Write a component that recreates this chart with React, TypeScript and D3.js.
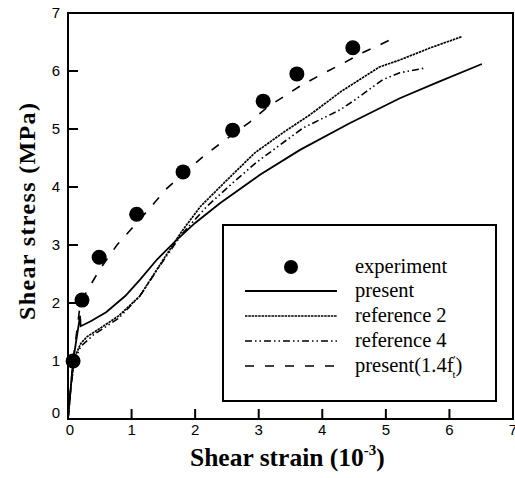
import React from "react";
import * as d3 from "d3";

const xTicks = [0, 1, 2, 3, 4, 5, 6, 7];
const yTicks = [0, 1, 2, 3, 4, 5, 6, 7];

const experiment: [number, number][] = [
  [0.08, 1.0], [0.22, 2.05], [0.49, 2.79], [1.08, 3.53], [1.81, 4.26],
  [2.59, 4.98], [3.07, 5.48], [3.6, 5.95], [4.48, 6.4],
];

const present: [number, number][] = [
  [0, 0], [0.04, 0.5], [0.08, 1.0], [0.19, 1.78], [0.2, 1.6], [0.35, 1.68],
  [0.6, 1.84], [0.9, 2.12], [1.13, 2.4], [1.4, 2.75], [1.71, 3.09], [2.0, 3.38],
  [2.39, 3.72], [3.02, 4.21], [3.65, 4.64], [4.43, 5.1], [5.22, 5.53],
  [5.8, 5.8], [6.51, 6.12],
];

const reference2: [number, number][] = [
  [0, 0], [0.05, 0.6], [0.1, 1.05], [0.2, 1.3], [0.3, 1.42], [0.5, 1.56],
  [0.8, 1.78], [1.13, 2.12], [1.5, 2.75], [1.8, 3.25], [2.08, 3.66], [2.5, 4.12],
  [2.94, 4.59], [3.4, 4.95], [3.8, 5.24], [4.3, 5.65], [4.9, 6.07], [5.22, 6.19],
  [5.7, 6.4], [6.19, 6.59],
];

const reference4: [number, number][] = [
  [0, 0], [0.05, 0.6], [0.1, 1.0], [0.2, 1.25], [0.4, 1.45], [0.8, 1.74],
  [1.13, 2.12], [1.5, 2.73], [1.8, 3.2], [2.18, 3.66], [2.6, 4.08], [2.97, 4.43],
  [3.7, 5.02], [4.28, 5.33], [4.51, 5.5], [4.95, 5.85], [5.22, 5.97], [5.61, 6.05],
];

const present14: [number, number][] = [
  [0, 0], [0.08, 1.0], [0.2, 2.05], [0.27, 2.15], [0.5, 2.58], [0.77, 3.0],
  [1.0, 3.28], [1.37, 3.74], [1.56, 3.98], [2.12, 4.52], [2.36, 4.72],
  [2.86, 5.12], [3.14, 5.38], [3.65, 5.74], [4.0, 5.95], [4.34, 6.14],
  [4.64, 6.32], [4.94, 6.47], [5.19, 6.6],
];

const legendLabels = ["experiment", "present", "reference 2", "reference 4", "present(1.4f"];

export default function App() {
  const W = 515, H = 478;
  const x = d3.scaleLinear().domain([0, 7]).range([68, 513]);
  const y = d3.scaleLinear().domain([0, 7]).range([419, 13]);
  const line = d3.line<[number, number]>().x(d => x(d[0])).y(d => y(d[1]));

  const series = [
    { data: present, dash: "none", w: 1.8 },
    { data: reference2, dash: "2.5,0.8", w: 1.7 },
    { data: reference4, dash: "7,3,1.5,3,1.5,3", w: 1.6 },
    { data: present14, dash: "9,11", w: 1.6 },
  ];

  const lx0 = 245, lx1 = 337, ltx = 355;
  const rows = [267, 291, 316, 341, 366];
  const tickFont = "'Liberation Sans', Arial, sans-serif";
  const serif = "'Liberation Serif', 'Times New Roman', serif";

  return (
    <svg width={W} height={H} style={{ position: "absolute", left: 0, top: 0, background: "#fff" }}>
      <rect x={0} y={0} width={W} height={H} fill="#fff" />
      {series.map((s, i) => (
        <path key={i} d={line(s.data) || ""} fill="none" stroke="#000"
          strokeWidth={s.w} strokeDasharray={s.dash} />
      ))}
      {experiment.map((d, i) => (
        <circle key={i} cx={x(d[0])} cy={y(d[1])} r={7.5} fill="#000" />
      ))}
      {/* frame */}
      <rect x={x(0)} y={y(7)} width={x(7) - x(0)} height={y(0) - y(7)} fill="none" stroke="#000" strokeWidth={2} />
      {xTicks.slice(1, -1).map(t => (
        <line key={t} x1={x(t)} x2={x(t)} y1={y(0)} y2={y(0) - 10} stroke="#000" strokeWidth={2} />
      ))}
      {yTicks.slice(1, -1).map(t => (
        <line key={t} x1={x(0)} x2={x(0) + 10} y1={y(t)} y2={y(t)} stroke="#000" strokeWidth={2} />
      ))}
      {xTicks.map(t => (
        <text key={t} x={x(t) + (t === 0 ? 2 : 0)} y={y(0) + 16} textAnchor="middle"
          fontFamily={tickFont} fontSize={15}>{t}</text>
      ))}
      {yTicks.map(t => (
        <text key={t} x={x(0) - 8} y={y(t) + 5 - (t === 0 ? 6 : 0)} textAnchor="end"
          fontFamily={tickFont} fontSize={15}>{t}</text>
      ))}
      {/* axis titles */}
      <text x={190} y={466} fontFamily={serif} fontSize={25.5} fontWeight="bold">
        <tspan>Shear strain (10</tspan>
        <tspan fontSize={15} dy={-11}>-3</tspan>
        <tspan dy={11}>)</tspan>
      </text>
      <text transform="translate(35,320) rotate(-90)" fontFamily={serif} fontSize={24}
        fontWeight="bold" textLength={217} lengthAdjust="spacing">Shear stress (MPa)</text>
      {/* legend */}
      <rect x={223} y={225} width={273} height={176} fill="#fff" stroke="#000" strokeWidth={2} />
      <circle cx={(lx0 + lx1) / 2} cy={rows[0]} r={7} fill="#000" />
      {series.map((s, i) => (
        <line key={i} x1={lx0} x2={lx1} y1={rows[i + 1]} y2={rows[i + 1]} stroke="#000"
          strokeWidth={s.w} strokeDasharray={s.dash} />
      ))}
      {legendLabels.map((l, i) => (
        <text key={i} x={ltx} y={rows[i] + 6} fontFamily={serif} fontSize={20.5}>
          {i === 4 ? (
            <>
              <tspan>{l}</tspan>
              <tspan fontSize={11} dy={-9} dx={0}>'</tspan>
              <tspan fontSize={11} dy={15} dx={-3}>t</tspan>
              <tspan dy={-6}>)</tspan>
            </>
          ) : l}
        </text>
      ))}
    </svg>
  );
}
